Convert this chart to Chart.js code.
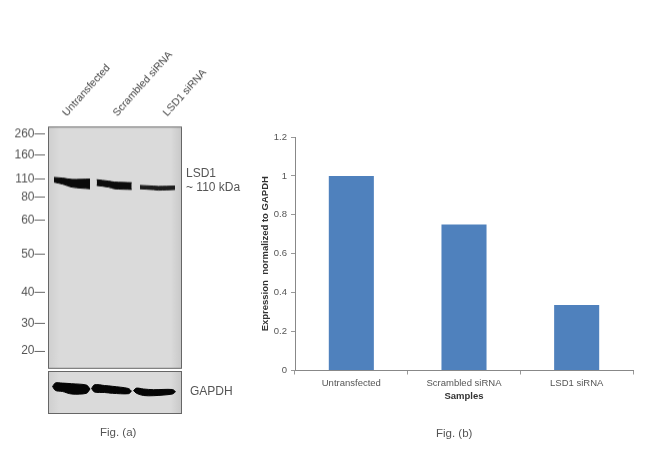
<!DOCTYPE html>
<html><head><meta charset="utf-8">
<script src="https://cdn.jsdelivr.net/npm/chart.js@4"></script>
<style>
html,body{margin:0;padding:0;background:#fff;width:650px;height:457px;overflow:hidden}
.box{position:absolute}
canvas{display:block;filter:blur(0.3px)}
.t{position:absolute;font-family:"Liberation Sans",Arial,sans-serif;color:#555;white-space:nowrap;filter:blur(0.3px)}
</style></head><body>
<div class="box" style="left:0;top:0;width:240px;height:374.5px"><canvas id="blot"></canvas></div>
<div class="box" style="left:0;top:368px;width:240px;height:50px"><canvas id="gapdh"></canvas></div>
<div class="box" style="left:260px;top:120px;width:390px;height:282px"><canvas id="bars"></canvas></div>
<div class="t" style="left:186px;top:166px;font-size:12px;">LSD1</div>
<div class="t" style="left:186px;top:180px;font-size:12px;">~ 110 kDa</div>
<div class="t" style="left:190px;top:384px;font-size:12px;">GAPDH</div>
<div class="t" style="left:100px;top:426px;font-size:11.5px;">Fig. (a)</div>
<div class="t" style="left:436px;top:427px;font-size:11.5px;">Fig. (b)</div>
<script>
const categories = ["Untransfected", "Scrambled siRNA", "LSD1 siRNA"];
const expression = [1, 0.75, 0.336];
const yTicks = [0, 0.2, 0.4, 0.6, 0.8, 1, 1.2];

const markers = [260, 160, 110, 80, 60, 50, 40, 30, 20];
const markerMigration = [7.3, 28.3, 52.3, 70.3, 93.3, 127.3, 165.3, 196.3, 223.8];
const laneLabelPos = [25.5, 76, 126];

const lsd1Lane1X = [5.5, 14, 23.5, 41.5], lsd1Lane1Top = [50.3, 51, 52.3, 52], lsd1Lane1Bottom = [55, 57, 60, 61.6];
const lsd1Lane2X = [48.2, 60, 66, 83.2], lsd1Lane2Top = [52.6, 54, 55, 55.6], lsd1Lane2Bottom = [58.3, 60, 61.6, 62.3];
const lsd1Lane3X = [91.5, 105, 110, 126.5], lsd1Lane3Top = [58.3, 59, 59.3, 59], lsd1Lane3Bottom = [61.6, 62.5, 63, 62.3];
const gapdhLane1X = [4, 7, 14, 23, 38, 41.5], gapdhLane1Top = [15, 11.4, 11.6, 12.2, 13.6, 17.5], gapdhLane1Bottom = [15, 19, 20, 22.5, 21.8, 17.5];
const gapdhLane2X = [43, 46, 56, 64, 80, 83], gapdhLane2Top = [17, 13.3, 14, 14.8, 17, 19.7], gapdhLane2Bottom = [17, 20.5, 21, 21.8, 22.2, 19.7];
const gapdhLane3X = [85, 88, 95, 105, 124, 127], gapdhLane3Top = [19, 16.6, 17.5, 18.2, 18, 20.2], gapdhLane3Bottom = [19, 21.8, 24, 24.2, 22.5, 20.2];

const FONT = '"Liberation Sans", Arial, sans-serif';
const band = (xs, top, bottom, color) => [
  {data: xs.map((x, i) => ({x, y: top[i]})), fill: '+1', backgroundColor: color, borderColor: color,
   borderWidth: 1, pointRadius: 0, tension: .3},
  {data: xs.map((x, i) => ({x, y: bottom[i]})), fill: false, borderColor: color,
   borderWidth: 1, pointRadius: 0, tension: .3}
];
const membrane = {
  id: 'membrane',
  beforeDatasetsDraw(c) {
    const a = c.chartArea, x = c.ctx, l = c.scales.x.getPixelForValue(0), w = a.right - l;
    const g = x.createLinearGradient(l, 0, a.right, 0);
    g.addColorStop(0, '#cfcfcf'); g.addColorStop(.08, '#dadada');
    g.addColorStop(.92, '#dadada'); g.addColorStop(1, '#c8c8c8');
    x.save(); x.fillStyle = g; x.fillRect(l, a.top, w, a.height); x.restore();
  },
  afterDatasetsDraw(c) {
    const a = c.chartArea, x = c.ctx, l = c.scales.x.getPixelForValue(0), w = a.right - l;
    x.save(); x.strokeStyle = '#666'; x.lineWidth = 1;
    x.strokeRect(l, a.top, w, a.height); x.restore();
  }
};

new Chart(document.getElementById('blot'), {
  type: 'line',
  data: {datasets: [
    ...band(lsd1Lane1X, lsd1Lane1Top, lsd1Lane1Bottom, '#0a0a0a'),
    ...band(lsd1Lane2X, lsd1Lane2Top, lsd1Lane2Bottom, '#0c0c0c'),
    ...band(lsd1Lane3X, lsd1Lane3Top, lsd1Lane3Bottom, '#1c1c1c')
  ]},
  plugins: [membrane],
  options: {
    responsive: true, maintainAspectRatio: false, animation: false,
    layout: {autoPadding: false, padding: {left: 0, top: 0, right: 58.5, bottom: 0}},
    plugins: {legend: {display: false}, tooltip: {enabled: false}},
    scales: {
      x: {
        type: 'linear', position: 'top', min: -4, max: 133,
        afterBuildTicks: s => { s.ticks = laneLabelPos.map(v => ({value: v})); },
        afterFit: s => { s.height = 126.7; },
        grid: {display: false}, border: {display: false},
        ticks: {autoSkip: false, minRotation: 48, maxRotation: 48, padding: 0,
          color: '#444', font: {family: FONT, size: 10.5},
          callback: (v) => categories[laneLabelPos.indexOf(v)]}
      },
      y: {
        type: 'linear', reverse: true, min: 0, max: 241,
        afterBuildTicks: s => { s.ticks = markerMigration.map(v => ({value: v})); },
        afterFit: s => { s.width = 44.5; },
        border: {display: false},
        grid: {drawOnChartArea: false, drawTicks: true, tickLength: 10, color: '#666', tickWidth: 1},
        ticks: {autoSkip: false, padding: 0, color: '#555', font: {family: FONT, size: 12},
          callback: (v) => markers[markerMigration.indexOf(v)]}
      }
    }
  }
});

new Chart(document.getElementById('gapdh'), {
  type: 'line',
  data: {datasets: [
    ...band(gapdhLane1X, gapdhLane1Top, gapdhLane1Bottom, '#050505'),
    ...band(gapdhLane2X, gapdhLane2Top, gapdhLane2Bottom, '#050505'),
    ...band(gapdhLane3X, gapdhLane3Top, gapdhLane3Bottom, '#050505')
  ]},
  plugins: [membrane],
  options: {
    responsive: true, maintainAspectRatio: false, animation: false,
    layout: {autoPadding: false, padding: {left: 48.5, top: 3.5, right: 58.5, bottom: 4.5}},
    plugins: {legend: {display: false}, tooltip: {enabled: false}},
    scales: {x: {type: 'linear', display: false, min: 0, max: 133}, y: {display: false, reverse: true, min: 0, max: 42}}
  }
});

new Chart(document.getElementById('bars'), {
  type: 'bar',
  data: {labels: categories, datasets: [{
    data: expression, backgroundColor: '#4f81bd', barPercentage: .4, categoryPercentage: 1
  }]},
  options: {
    responsive: true, maintainAspectRatio: false, animation: false,
    layout: {autoPadding: false, padding: {left: 0, top: 17, right: 17, bottom: 0}},
    plugins: {legend: {display: false}, tooltip: {enabled: false}},
    scales: {
      x: {
        grid: {drawOnChartArea: false, offset: true, tickLength: 4, color: '#999'},
        border: {color: '#888'},
        afterFit: s => { s.height = 31.5; },
        ticks: {padding: 3, maxRotation: 0, color: '#555', font: {family: FONT, size: 9.5}},
        title: {display: true, text: 'Samples', color: '#333', padding: {top: 0, bottom: 0},
          font: {family: FONT, size: 9.5, weight: 'bold'}}
      },
      y: {
        min: 0, max: 1.2,
        afterBuildTicks: s => { s.ticks = yTicks.map(v => ({value: v})); },
        afterFit: s => { s.width = 35; },
        grid: {drawOnChartArea: false, tickLength: 4, color: '#999'},
        border: {color: '#888'},
        ticks: {padding: 4, color: '#555', font: {family: FONT, size: 9.5}, callback: v => String(v)},
        title: {display: true, text: 'Expression  normalized to GAPDH', color: '#333', padding: {top: 0, bottom: 0},
          font: {family: FONT, size: 9.5, weight: 'bold'}}
      }
    }
  }
});
</script>
</body></html>
